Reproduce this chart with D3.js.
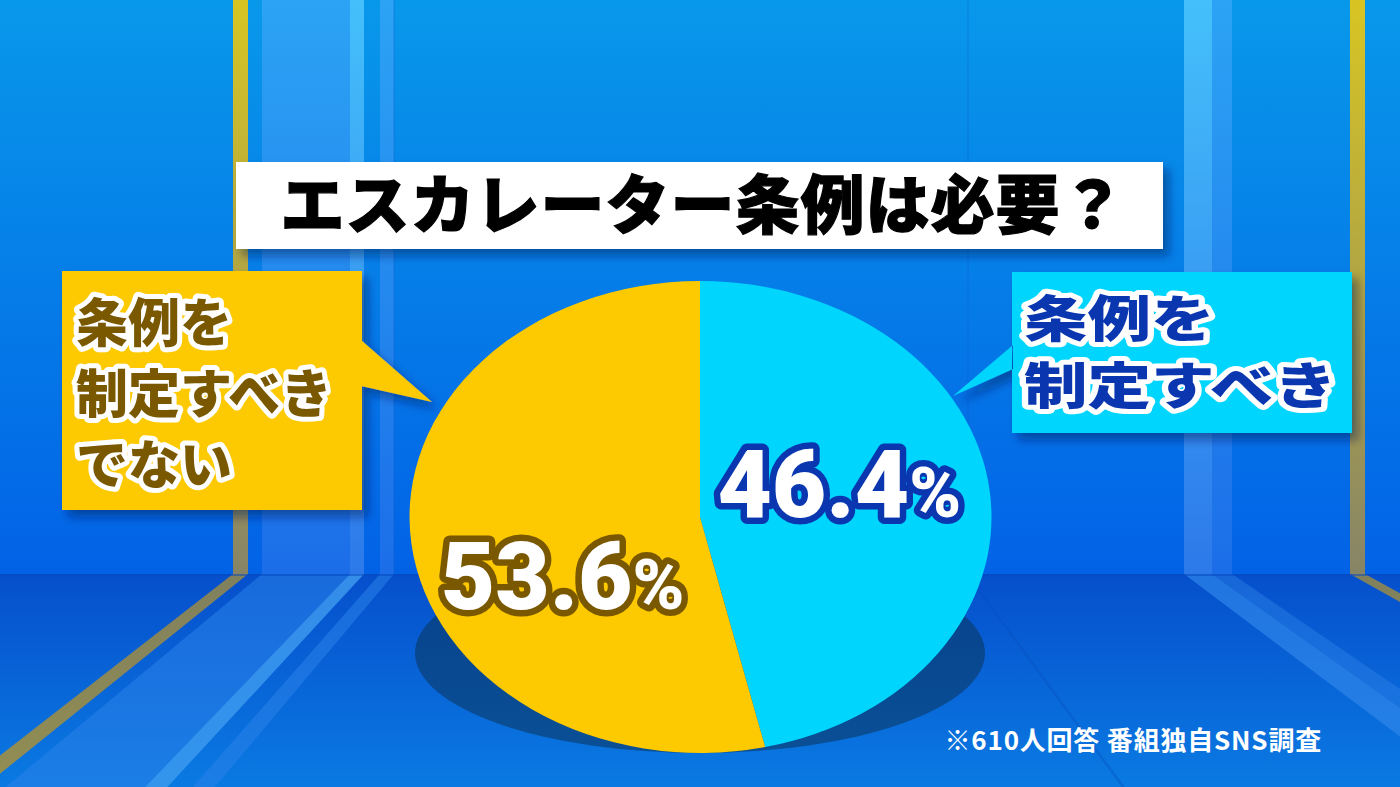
<!DOCTYPE html>
<html><head><meta charset="utf-8">
<script src="https://cdn.jsdelivr.net/npm/d3@7"></script>
<style>html,body{margin:0;padding:0;background:#0a7ae0;overflow:hidden}svg{display:block}</style>
</head><body>
<svg id="chart" width="1400" height="787"></svg>
<script>
// ---- data ----
const title = "エスカレーター条例は必要？";
const categories = ["条例を制定すべき", "条例を制定すべきでない"];
const values = [46.4, 53.6];
const valueLabels = ["46.4", "53.6"];
const calloutLines = [["条例を", "制定すべき"], ["条例を", "制定すべき", "でない"]];
const note = "※610人回答 番組独自SNS調査";

// ---- styles ----
const sliceColors = ["#00d5fd", "#fdc900"];
const textColors = ["#0a37b0", "#7a5800"];
const W = 1400, H = 787, floorY = 574;
const JP = "'Noto Sans CJK JP','Noto Sans CJK SC',sans-serif";

const svg = d3.select("#chart");
const defs = svg.append("defs");

function lin(id, stops, x2 = 0, y2 = 1) {
  const g = defs.append("linearGradient").attr("id", id)
    .attr("x1", 0).attr("y1", 0).attr("x2", x2).attr("y2", y2);
  stops.forEach(s => g.append("stop").attr("offset", s[0]).attr("stop-color", s[1]));
}
lin("wall", [[0, "#0898ea"], [1, "#0262e6"]]);
lin("floor", [[0, "#064fcc"], [1, "#0a7ae2"]]);
lin("band", [[0, "#2ea4f5"], [1, "#1d6ee8"]]);
lin("bright", [[0, "#48c2fc"], [1, "#2f7aea"]]);
lin("yel", [[0, "#e3c718"], [1, "#8e8660"]]);
lin("yelFloor", [[0, "#80805e"], [1, "#b6a83a"]]);
lin("shadowG", [[0, "#063f8a"], [1, "#0a5096"]]);

const f = defs.append("filter").attr("id", "ds").attr("x", "-10%").attr("y", "-10%").attr("width", "130%").attr("height", "140%");
f.append("feDropShadow").attr("dx", 6).attr("dy", 7).attr("stdDeviation", 5)
  .attr("flood-color", "#001a55").attr("flood-opacity", 0.45);

// ---- background stage ----
const bg = svg.append("g");
bg.append("rect").attr("width", W).attr("height", floorY).attr("fill", "url(#wall)");
bg.append("rect").attr("y", floorY).attr("width", W).attr("height", H - floorY).attr("fill", "url(#floor)");

// vertical wall stripes [x0, x1, fill]
const wallStripes = [
  [262, 350, "url(#band)"], [350, 364, "url(#bright)"], [380, 394, "url(#band)"],
  [233, 248, "url(#yel)"],
  [1184, 1212, "url(#bright)"], [1212, 1232, "url(#band)"],
  [1350, 1365, "url(#yel)"]
];
wallStripes.forEach(s => bg.append("rect").attr("x", s[0]).attr("y", 0)
  .attr("width", s[1] - s[0]).attr("height", floorY).attr("fill", s[2]).attr("opacity", 0.95));
// faint wall seams
[393, 967].forEach(x => bg.append("rect").attr("x", x).attr("y", 0).attr("width", 2).attr("height", floorY)
  .attr("fill", "#0a5ccc").attr("opacity", 0.2));

// floor perspective strips toward a vanishing point
const vp = [700, 210];
function floorStrip(x0, x1, fill, op) {
  const p = x => { const k = (x - vp[0]) / (floorY - vp[1]); return [x + k * (H + 400 - floorY), H + 400]; };
  const a = p(x0), b = p(x1);
  bg.append("path").attr("d", `M${x0},${floorY}L${x1},${floorY}L${b[0]},${b[1]}L${a[0]},${a[1]}Z`)
    .attr("fill", fill).attr("opacity", op);
}
floorStrip(262, 350, "#2a82ea", 0.55);
floorStrip(350, 364, "#3f9cf0", 0.8);
floorStrip(380, 394, "#2a82ea", 0.55);
floorStrip(233, 248, "url(#yelFloor)", 1);
floorStrip(1184, 1212, "#2f86ea", 0.7);
floorStrip(1212, 1232, "#2a7ee6", 0.5);
floorStrip(1350, 1365, "url(#yelFloor)", 1);
floorStrip(966, 968, "#0a4eb8", 0.35);
bg.append("rect").attr("y", floorY).attr("width", W).attr("height", 2).attr("fill", "#0548c0").attr("opacity", 0.5);

// ---- title ----
svg.append("rect").attr("x", 236).attr("y", 162).attr("width", 927).attr("height", 87)
  .attr("fill", "#ffffff").attr("filter", "url(#ds)");
svg.append("text").attr("x", 703).attr("y", 228).attr("text-anchor", "middle")
  .attr("font-family", JP).attr("font-weight", 900).attr("font-size", 64).attr("letter-spacing", 1)
  .attr("fill", "#000").attr("stroke", "#000").attr("stroke-width", 1.2)
  .text(title);

// ---- pie ----
const cx = 700, cy = 517, rx = 291, ry = 236;
svg.append("ellipse").attr("cx", cx).attr("cy", 653).attr("rx", 285).attr("ry", 100)
  .attr("fill", "url(#shadowG)");

const pie = d3.pie().sort(null).value(d => d)(values);
const arc = d3.arc().innerRadius(0).outerRadius(1);
const pg = svg.append("g").attr("transform", `translate(${cx},${cy}) scale(${rx},${ry})`);
pg.selectAll("path").data(pie).join("path")
  .attr("d", arc).attr("fill", (d, i) => sliceColors[i]);

// value labels
const labelArc = d3.arc().innerRadius(0).outerRadius(0.95);
const labelOffsets = [[2, -20], [0, 46]];
pie.forEach((d, i) => {
  const c = labelArc.centroid(d);
  const x = cx + c[0] * rx + labelOffsets[i][0];
  const y = cy + c[1] * ry + labelOffsets[i][1];
  const t = svg.append("text").attr("x", x).attr("y", y + 33).attr("text-anchor", "middle")
    .attr("font-family", "Roboto, 'Noto Sans', sans-serif").attr("font-weight", 900)
    .attr("font-size", 94).attr("fill", "#fff")
    .attr("stroke", textColors[i]).attr("stroke-width", 13).attr("stroke-linejoin", "round")
    .attr("paint-order", "stroke");
  t.append("tspan").text(valueLabels[i]);
  t.append("tspan").attr("font-size", 70).text("%");
});

// ---- callouts ----
function callout(box, tail, fill, lines, tx, ty0, lh, color, fs, sx) {
  const [x, y, w, h] = box;
  const g = svg.append("g");
  g.append("path").attr("d", `M${x},${y}H${x + w}V${y + h}H${x}Z M${tail[0][0]},${tail[0][1]}L${tail[1][0]},${tail[1][1]}L${tail[2][0]},${tail[2][1]}Z`)
    .attr("fill", fill).attr("filter", "url(#ds)");
  const t = g.append("text").attr("transform", `translate(${tx},${ty0}) scale(${sx},1)`)
    .attr("font-family", JP).attr("font-weight", 900).attr("font-size", fs)
    .attr("fill", color).attr("stroke", "#fff").attr("stroke-width", 10)
    .attr("stroke-linejoin", "round").attr("paint-order", "stroke");
  lines.forEach((l, i) => t.append("tspan").attr("x", 0).attr("y", i * lh).text(l));
}
// left: 条例を制定すべきでない
callout([62, 271, 300, 239], [[361, 340], [432, 402], [361, 386]], sliceColors[1],
  calloutLines[1], 76, 342, 71, textColors[1], 52, 1);
// right: 条例を制定すべき
callout([1012, 272, 340, 161], [[1013, 345], [953, 396], [1013, 369]], sliceColors[0],
  calloutLines[0], 1024, 337, 67, textColors[0], 50, 1.27);

// ---- note ----
svg.append("text").attr("x", 1322).attr("y", 750).attr("text-anchor", "end")
  .attr("font-family", JP).attr("font-weight", 700).attr("font-size", 26).attr("letter-spacing", 0.8)
  .attr("fill", "#fff")
  .text(note);
</script>
</body></html>
